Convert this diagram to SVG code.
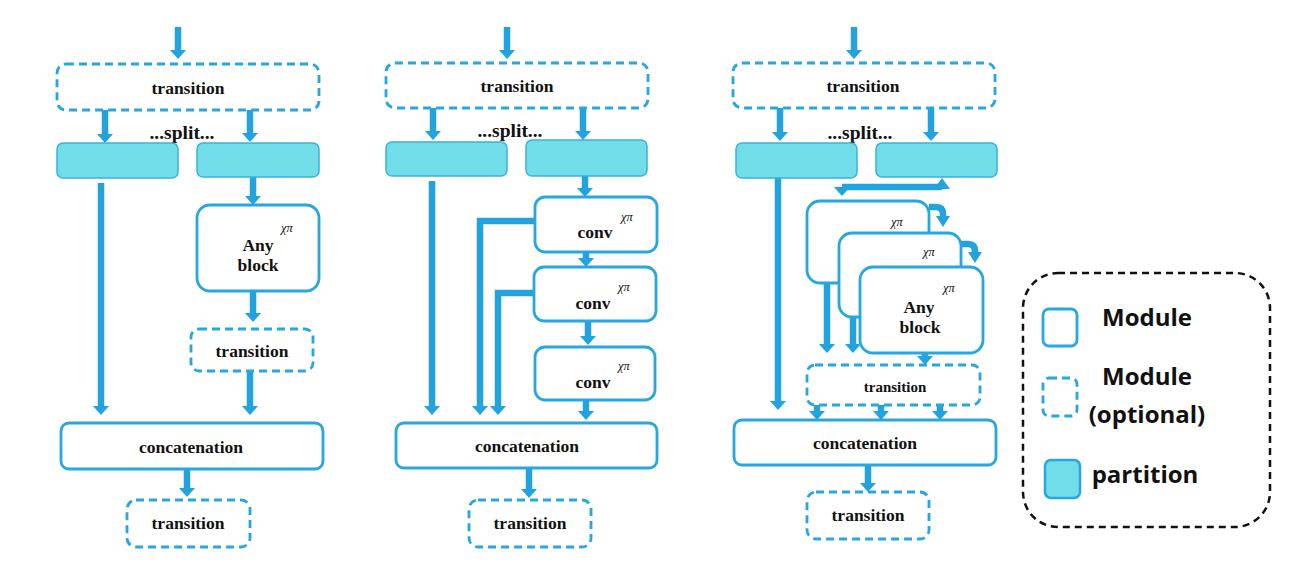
<svg xmlns="http://www.w3.org/2000/svg" width="1311" height="575" viewBox="0 0 1311 575">
<defs>
<marker id="ah" markerUnits="userSpaceOnUse" markerWidth="18" markerHeight="18" refX="0" refY="8" orient="auto" overflow="visible">
<path d="M0,0 L9,8 L0,16 Z" fill="#22a3dd"/>
</marker>
<style>
.mod{fill:#fff;stroke:#27a6df;stroke-width:2.8}
.opt{fill:#fff;stroke:#27a6df;stroke-width:2.8;stroke-dasharray:8 5}
.part{fill:#70dde9;stroke:#3ab3da;stroke-width:1.5}
.arr{fill:none;stroke:#22a3dd;stroke-width:6.5;marker-end:url(#ah)}
.ln{fill:none;stroke:#22a3dd;stroke-width:6.5}
.t{font-family:"Liberation Serif",serif;font-weight:bold;font-size:17.5px;fill:#111;text-anchor:middle}
.ts{font-family:"Liberation Serif",serif;font-weight:bold;font-size:15px;fill:#111;text-anchor:middle}
.sp{font-family:"Liberation Serif",serif;font-weight:bold;font-size:19.5px;fill:#111;text-anchor:middle}
.x{font-family:"Liberation Serif",serif;font-style:italic;font-size:12.5px;fill:#111;text-anchor:middle}
.lg{font-family:"Open Sans",sans-serif;font-weight:bold;font-size:24px;fill:#111;text-anchor:middle}
</style>
</defs>
<rect width="1311" height="575" fill="#fff"/>

<g id="connectors">
<!-- column 1 -->
<line class="arr" x1="178" y1="27" x2="178" y2="50"/>
<line class="arr" x1="105" y1="110" x2="105" y2="134"/>
<line class="arr" x1="250" y1="110" x2="250" y2="133"/>
<line class="arr" x1="101" y1="183" x2="101" y2="406"/>
<line class="arr" x1="253" y1="177" x2="253" y2="196"/>
<line class="arr" x1="253" y1="291" x2="253" y2="313"/>
<line class="arr" x1="250" y1="372" x2="250" y2="406"/>
<line class="arr" x1="187" y1="469" x2="187" y2="488"/>
<!-- column 2 -->
<line class="arr" x1="507" y1="27" x2="507" y2="50"/>
<line class="arr" x1="433" y1="108" x2="433" y2="131"/>
<line class="arr" x1="583" y1="108" x2="583" y2="131"/>
<line class="arr" x1="432" y1="181" x2="432" y2="406"/>
<line class="arr" x1="585" y1="176" x2="585" y2="188"/>
<line class="arr" x1="586" y1="252" x2="586" y2="258"/>
<line class="arr" x1="588" y1="321" x2="588" y2="336"/>
<line class="arr" x1="586" y1="400" x2="586" y2="411"/>
<path class="arr" d="M535,221 H480 V406" stroke-linejoin="miter"/>
<path class="arr" d="M534,293 H498 V406" stroke-linejoin="miter"/>
<line class="arr" x1="529" y1="468" x2="529" y2="489"/>
<!-- column 3 -->
<line class="arr" x1="854" y1="27" x2="854" y2="50"/>
<line class="arr" x1="780" y1="108" x2="780" y2="132"/>
<line class="arr" x1="931" y1="108" x2="931" y2="132"/>
<line class="arr" x1="778" y1="178" x2="778" y2="401"/>
<path class="ln" d="M842,187 H942" stroke-width="5"/>
<polygon points="934,189 950,189 942,178" fill="#22a3dd"/>
<polygon points="834,187 850,187 842,196" fill="#22a3dd"/>
<path class="ln" d="M929,207 H936 Q943,207 943,214 V217" stroke-width="6"/>
<polygon points="936,216 950,216 943,227" fill="#22a3dd"/>
<path class="ln" d="M961,244 H968 Q975,244 975,251 V253" stroke-width="6"/>
<polygon points="968,252 982,252 975,263" fill="#22a3dd"/>
<line class="arr" x1="827" y1="283" x2="827" y2="344"/>
<line class="arr" x1="853" y1="317" x2="853" y2="344"/>
<line class="arr" x1="925" y1="353" x2="925" y2="356"/>
<line class="arr" x1="817" y1="405" x2="817" y2="411"/>
<line class="arr" x1="881" y1="405" x2="881" y2="411"/>
<line class="arr" x1="940" y1="405" x2="940" y2="411"/>
<line class="arr" x1="868" y1="465" x2="868" y2="483"/>
</g>

<!-- Column 1 -->
<g id="c1-transition"><rect class="opt" x="57" y="64" width="262" height="46" rx="9"/><text class="t" x="188" y="94">transition</text></g>
<g id="c1-split"><text class="sp" x="182" y="139">...split...</text></g>
<g id="c1-partL"><rect class="part" x="57" y="143" width="121" height="35" rx="6"/></g>
<g id="c1-partR"><rect class="part" x="197" y="143" width="122" height="34" rx="6"/></g>
<g id="c1-block"><rect class="mod" x="197" y="205" width="122" height="86" rx="13"/><text class="x" x="287" y="232">χπ</text><text class="t" x="258" y="251">Any</text><text class="t" x="258" y="271">block</text></g>
<g id="c1-transition2"><rect class="opt" x="191" y="329" width="122" height="42" rx="8"/><text class="t" x="252" y="357">transition</text></g>
<g id="c1-concat"><rect class="mod" x="61" y="423" width="262" height="46" rx="8"/><text class="t" x="191" y="453">concatenation</text></g>
<g id="c1-transition3"><rect class="opt" x="127" y="500" width="123" height="47" rx="9"/><text class="t" x="188" y="529">transition</text></g>

<!-- Column 2 -->
<g id="c2-transition"><rect class="opt" x="386" y="63" width="262" height="45" rx="9"/><text class="t" x="517" y="92">transition</text></g>
<g id="c2-split"><text class="sp" x="510" y="137">...split...</text></g>
<g id="c2-partL"><rect class="part" x="386" y="142" width="121" height="34" rx="6"/></g>
<g id="c2-partR"><rect class="part" x="526" y="140" width="121" height="36" rx="6"/></g>
<g id="c2-conv1"><rect class="mod" x="535" y="197" width="122" height="55" rx="10"/><text class="x" x="627" y="221">χπ</text><text class="t" x="595" y="238">conv</text></g>
<g id="c2-conv2"><rect class="mod" x="534" y="267" width="122" height="54" rx="10"/><text class="x" x="624" y="291">χπ</text><text class="t" x="593" y="309">conv</text></g>
<g id="c2-conv3"><rect class="mod" x="535" y="347" width="120" height="53" rx="10"/><text class="x" x="624" y="370">χπ</text><text class="t" x="593" y="388">conv</text></g>
<g id="c2-concat"><rect class="mod" x="396" y="423" width="261" height="45" rx="8"/><text class="t" x="527" y="452">concatenation</text></g>
<g id="c2-transition3"><rect class="opt" x="469" y="500" width="122" height="47" rx="9"/><text class="t" x="530" y="529">transition</text></g>

<!-- Column 3 -->
<g id="c3-transition"><rect class="opt" x="733" y="63" width="262" height="45" rx="9"/><text class="t" x="863" y="92">transition</text></g>
<g id="c3-split"><text class="sp" x="860" y="139">...split...</text></g>
<g id="c3-partL"><rect class="part" x="736" y="143" width="121" height="35" rx="6"/></g>
<g id="c3-partR"><rect class="part" x="876" y="143" width="121" height="34" rx="6"/></g>
<g id="c3-block1"><rect class="mod" x="807" y="201" width="122" height="82" rx="13"/><text class="x" x="897" y="226">χπ</text></g>
<g id="c3-block2"><rect class="mod" x="839" y="233" width="122" height="84" rx="13"/><text class="x" x="929" y="256">χπ</text></g>
<g id="c3-block3"><rect class="mod" x="860" y="267" width="123" height="86" rx="13"/><text class="x" x="949" y="292">χπ</text><text class="t" x="919" y="313">Any</text><text class="t" x="920" y="333">block</text></g>
<g id="c3-transition2"><rect class="opt" x="807" y="365" width="173" height="40" rx="8"/><text class="ts" x="895" y="392">transition</text></g>
<g id="c3-concat"><rect class="mod" x="734" y="420" width="262" height="45" rx="8"/><text class="t" x="865" y="449">concatenation</text></g>
<g id="c3-transition3"><rect class="opt" x="807" y="492" width="122" height="47" rx="9"/><text class="t" x="868" y="521">transition</text></g>

<!-- Legend -->
<g id="legend">
<rect x="1023" y="273" width="247" height="254" rx="35" fill="none" stroke="#111" stroke-width="2.5" stroke-dasharray="7 5"/>
<rect class="mod" x="1043" y="309" width="34" height="37" rx="6" stroke-width="2.5"/>
<text class="lg" x="1147" y="326">Module</text>
<rect class="opt" x="1043" y="378" width="34" height="38" rx="6" stroke-width="2.2" stroke-dasharray="6 4"/>
<text class="lg" x="1147" y="385">Module</text>
<text class="lg" x="1147" y="423">(optional)</text>
<rect x="1045" y="460" width="35" height="38" rx="6" fill="#70dde9" stroke="#27a6df" stroke-width="2.5"/>
<text class="lg" x="1145" y="483">partition</text>
</g>
</svg>
